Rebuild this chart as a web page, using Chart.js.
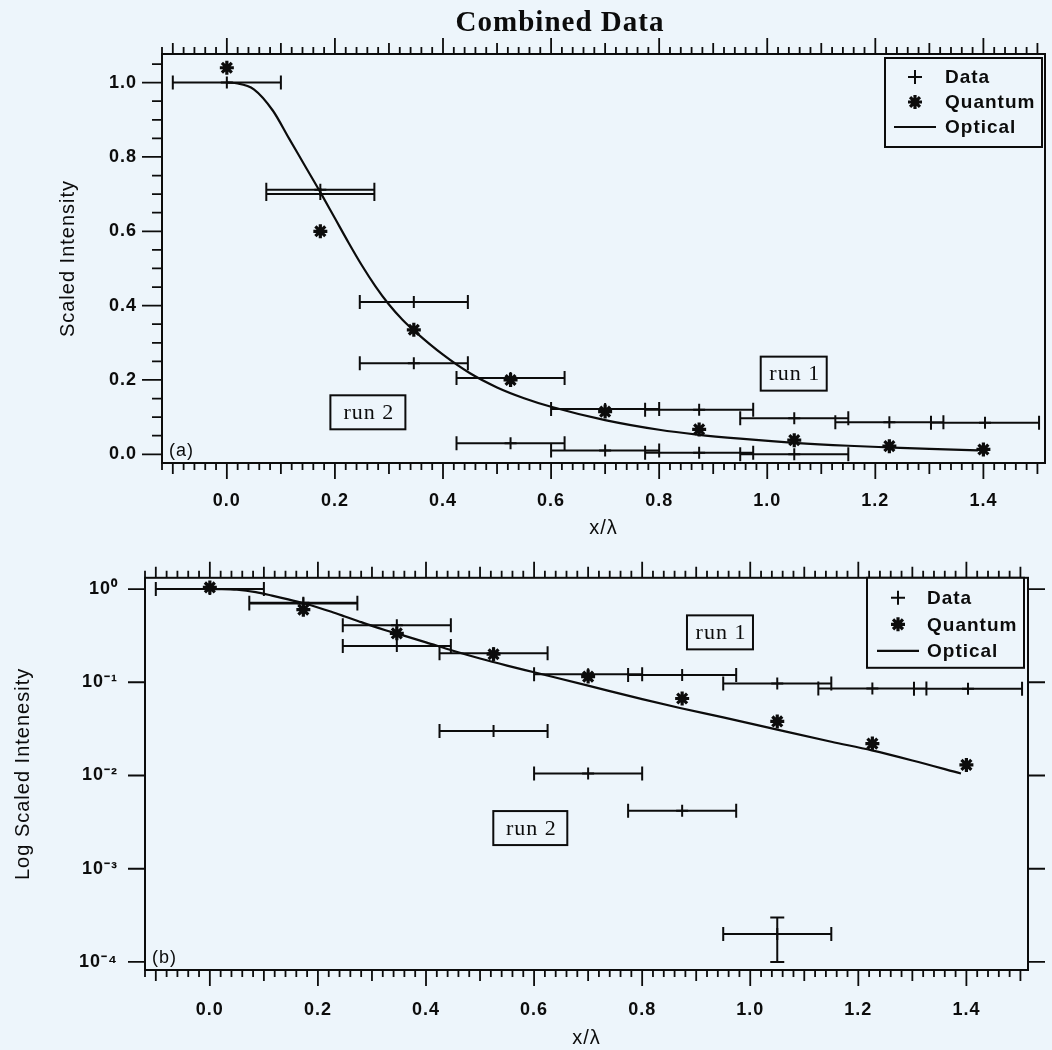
<!DOCTYPE html>
<html>
<head>
<meta charset="utf-8">
<title>Combined Data</title>
<script src="https://cdn.jsdelivr.net/npm/chart.js@4.4.1/dist/chart.umd.min.js"></script>
<style>
  html, body { margin: 0; padding: 0; background: #edf5fb; }
  #wrap { position: relative; width: 1052px; height: 1050px; background: #edf5fb; overflow: hidden; }
  .panel { position: absolute; left: 0; width: 1052px; }
  #panelA { top: 0; height: 540px; }
  #panelB { top: 540px; height: 510px; }
</style>
</head>
<body>
<div id="wrap">
  <div class="panel" id="panelA"><canvas id="chartA" width="1052" height="540"></canvas></div>
  <div class="panel" id="panelB"><canvas id="chartB" width="1052" height="510"></canvas></div>
</div>
<script>
// measured points, x in units of x/lambda
const run1X    = [0.000, 0.173, 0.346, 0.525, 0.700, 0.874, 1.050, 1.226, 1.403];
const run1Y    = [1.000, 0.712, 0.410, 0.205, 0.122, 0.120, 0.097, 0.086, 0.085];
const run1XErr = [0.10, 0.10, 0.10, 0.10, 0.10, 0.10, 0.10, 0.10, 0.10];

const run2X    = [0.173, 0.346, 0.525, 0.700, 0.874, 1.050];
const run2Y    = [0.700, 0.245, 0.030, 0.0105, 0.0042, 0.0002];
const run2XErr = [0.10, 0.10, 0.10, 0.10, 0.10, 0.10];
const run2YLow  = [null, null, null, null, null, 0.0001];
const run2YHigh = [null, null, null, null, null, 0.0003];

const quantumX = [0.000, 0.173, 0.346, 0.525, 0.700, 0.874, 1.050, 1.226, 1.400];
const quantumY = [1.040, 0.600, 0.335, 0.200, 0.115, 0.067, 0.038, 0.022, 0.013];

const opticalX = [0.00, 0.02, 0.05, 0.085, 0.115, 0.145, 0.175, 0.20, 0.225, 0.25, 0.275, 0.30,
                  0.325, 0.35, 0.40, 0.45, 0.50, 0.55, 0.60, 0.70, 0.80, 0.87, 0.95, 1.05,
                  1.15, 1.225, 1.30, 1.39];
const opticalY = [1.000, 0.998, 0.982, 0.925, 0.850, 0.775, 0.700, 0.635, 0.570, 0.508, 0.452, 0.403,
                  0.362, 0.328, 0.268, 0.218, 0.180, 0.151, 0.128, 0.092, 0.066, 0.053, 0.042, 0.031,
                  0.023, 0.0186, 0.0145, 0.0105];

const xTicks   = [0.0, 0.2, 0.4, 0.6, 0.8, 1.0, 1.2, 1.4];
const yTicks   = [0.0, 0.2, 0.4, 0.6, 0.8, 1.0];
const logTicks = [1e-4, 1e-3, 1e-2, 1e-1, 1];

const INK = '#0c0c0c';
const BG = '#edf5fb';
const SANS = "'Liberation Sans', Arial, Helvetica, sans-serif";
const SERIF = "'Liberation Serif', 'Times New Roman', serif";
const CAP = 7;

const tickFont = { family: SANS, size: 18, weight: 'bold' };
const titleFont = { family: SANS, size: 20 };

const sup = { '0': '⁰', '1': '¹', '2': '²', '3': '³', '4': '⁴', '-': '⁻' };
function powerLabel(v) {
    const e = Math.round(Math.log10(v));
    return '10' + String(e).split('').map(c => sup[c]).join('');
}

function withErrors(xs, ys, xErr, yLow, yHigh) {
    return xs.map((v, i) => ({
        x: v, y: ys[i],
        xMin: v - xErr[i], xMax: v + xErr[i],
        yMin: yLow ? yLow[i] : null, yMax: yHigh ? yHigh[i] : null
    }));
}

function buildDatasets() {
    return [
        {
            label: 'Data (run 1)', legendLabel: 'Data', errorBars: true,
            data: withErrors(run1X, run1Y, run1XErr),
            pointStyle: 'cross', pointRadius: 6, pointBorderWidth: 2,
            borderColor: INK, backgroundColor: INK
        },
        {
            label: 'Data (run 2)', errorBars: true,
            data: withErrors(run2X, run2Y, run2XErr, run2YLow, run2YHigh),
            pointStyle: 'cross', pointRadius: 6, pointBorderWidth: 2,
            borderColor: INK, backgroundColor: INK
        },
        {
            label: 'Quantum', legendLabel: 'Quantum',
            data: quantumX.map((v, i) => ({ x: v, y: quantumY[i] })),
            pointStyle: 'star', pointRadius: 7, pointBorderWidth: 3.2,
            borderColor: INK, backgroundColor: INK
        },
        {
            label: 'Optical', legendLabel: 'Optical',
            data: opticalX.map((v, i) => ({ x: v, y: opticalY[i] })),
            showLine: true, pointRadius: 0, borderWidth: 2.2,
            cubicInterpolationMode: 'monotone',
            borderColor: INK, backgroundColor: INK
        }
    ];
}

// error bars, frame, minor ticks, legend box and labels
function drawErrorBars(chart) {
    const { ctx, scales: { x, y } } = chart;
    ctx.save();
    ctx.strokeStyle = INK;
    ctx.lineWidth = 2;
    ctx.beginPath();
    chart.data.datasets.forEach(ds => {
        if (!ds.errorBars) return;
        ds.data.forEach(p => {
            const px = x.getPixelForValue(p.x);
            const py = y.getPixelForValue(p.y);
            if (p.xMin != null) {
                const x0 = x.getPixelForValue(p.xMin);
                const x1 = x.getPixelForValue(p.xMax);
                ctx.moveTo(x0, py); ctx.lineTo(x1, py);
                ctx.moveTo(x0, py - CAP); ctx.lineTo(x0, py + CAP);
                ctx.moveTo(x1, py - CAP); ctx.lineTo(x1, py + CAP);
            }
            if (p.yMin != null) {
                const y0 = y.getPixelForValue(p.yMin);
                const y1 = y.getPixelForValue(p.yMax);
                ctx.moveTo(px, y0); ctx.lineTo(px, y1);
                ctx.moveTo(px - CAP, y0); ctx.lineTo(px + CAP, y0);
                ctx.moveTo(px - CAP, y1); ctx.lineTo(px + CAP, y1);
            }
        });
    });
    ctx.stroke();
    ctx.restore();
}

function drawFrame(chart, o) {
    const { ctx, chartArea: a, scales: { x, y } } = chart;
    ctx.save();
    ctx.strokeStyle = INK;
    ctx.lineWidth = 2;
    ctx.strokeRect(a.left, a.top, a.right - a.left, a.bottom - a.top);

    ctx.lineWidth = 1.8;
    ctx.beginPath();
    const first = Math.ceil(x.min / 0.02 - 1e-6);
    const last = Math.floor(x.max / 0.02 + 1e-6);
    for (let i = first; i <= last; i++) {
        const px = x.getPixelForValue(i * 0.02);
        const len = i % 10 === 0 ? 16 : (i % 5 === 0 ? 11 : 7);
        ctx.moveTo(px, a.bottom); ctx.lineTo(px, a.bottom + len);
        ctx.moveTo(px, a.top); ctx.lineTo(px, a.top - len);
    }
    if (o.yMinorStep) {
        const s = o.yMinorStep;
        for (let i = Math.ceil(y.min / s - 1e-6); i * s <= y.max + 1e-9; i++) {
            const py = y.getPixelForValue(i * s);
            const len = i % 4 === 0 ? o.yMajorLen : 10;
            ctx.moveTo(a.left, py); ctx.lineTo(a.left - len, py);
        }
    } else {
        y.ticks.forEach(t => {
            const py = y.getPixelForValue(t.value);
            ctx.moveTo(a.left, py); ctx.lineTo(a.left - o.yMajorLen, py);
            if (o.rightTicks) { ctx.moveTo(a.right, py); ctx.lineTo(a.right + o.yMajorLen, py); }
        });
    }
    ctx.stroke();
    ctx.restore();
}

function drawMarker(ctx, ds, cx, cy) {
    ctx.beginPath();
    if (ds.showLine) {
        ctx.lineWidth = 2.2;
        ctx.moveTo(cx - 21, cy); ctx.lineTo(cx + 21, cy);
    } else if (ds.pointStyle === 'cross') {
        ctx.lineWidth = 2;
        ctx.moveTo(cx - 7, cy); ctx.lineTo(cx + 7, cy);
        ctx.moveTo(cx, cy - 7); ctx.lineTo(cx, cy + 7);
    } else {
        const r = 7, d = r * Math.SQRT1_2;
        ctx.lineWidth = 3.2;
        ctx.moveTo(cx - r, cy); ctx.lineTo(cx + r, cy);
        ctx.moveTo(cx, cy - r); ctx.lineTo(cx, cy + r);
        ctx.moveTo(cx - d, cy - d); ctx.lineTo(cx + d, cy + d);
        ctx.moveTo(cx - d, cy + d); ctx.lineTo(cx + d, cy - d);
    }
    ctx.stroke();
}

function drawLegend(chart, L) {
    const { ctx, chartArea: a } = chart;
    const left = a.right - L.right - L.width;
    const top = a.top + L.top;
    ctx.save();
    ctx.fillStyle = BG;
    ctx.fillRect(left, top, L.width, L.height);
    ctx.strokeStyle = INK;
    ctx.lineWidth = 2;
    ctx.strokeRect(left, top, L.width, L.height);
    chart.data.datasets.filter(ds => ds.legendLabel).forEach((ds, i) => {
        const cy = top + L.firstRow + i * L.rowGap;
        drawMarker(ctx, ds, left + L.symbolX, cy);
        ctx.fillStyle = INK;
        ctx.font = 'bold 19px ' + SANS;
        ctx.textAlign = 'left';
        ctx.textBaseline = 'middle';
        ctx.fillText(ds.legendLabel, left + L.textX, cy + 1);
    });
    ctx.restore();
}

function drawRunLabels(chart, labels) {
    const { ctx, scales: { x, y } } = chart;
    ctx.save();
    labels.forEach(r => {
        const cx = x.getPixelForValue(r.x);
        const cy = y.getPixelForValue(r.y);
        ctx.fillStyle = BG;
        ctx.fillRect(cx - r.w / 2, cy - 17, r.w, 34);
        ctx.strokeStyle = INK;
        ctx.lineWidth = 2;
        ctx.strokeRect(cx - r.w / 2, cy - 17, r.w, 34);
        ctx.fillStyle = INK;
        ctx.font = '22px ' + SERIF;
        ctx.textAlign = 'center';
        ctx.textBaseline = 'middle';
        ctx.fillText(r.text, cx + 1, cy + 1);
    });
    ctx.restore();
}

const panelDecor = {
    id: 'panelDecor',
    beforeDraw(chart) {
        chart.ctx.letterSpacing = '1px';
    },
    afterDatasetsDraw(chart) {
        drawErrorBars(chart);
    },
    afterDraw(chart, args, o) {
        const { ctx, chartArea: a } = chart;
        drawFrame(chart, o);
        drawRunLabels(chart, o.runLabels);
        drawLegend(chart, o.legend);
        ctx.save();
        ctx.fillStyle = INK;
        ctx.font = '18px ' + SANS;
        ctx.textAlign = 'left';
        ctx.textBaseline = 'middle';
        ctx.fillText(o.tag, a.left + 7, a.bottom - 12);
        if (o.title) {
            ctx.font = 'bold 29px ' + SERIF;
            ctx.textAlign = 'center';
            ctx.fillText(o.title.text, o.title.x, o.title.y);
        }
        ctx.restore();
    }
};

function axisX(height, labelPad) {
    return {
        type: 'linear', position: 'bottom', min: -0.12, max: 1.514,
        afterBuildTicks: s => { s.ticks = xTicks.map(v => ({ value: v })); },
        afterFit: s => { s.height = height; },
        grid: { display: false, drawTicks: false },
        border: { display: false },
        ticks: {
            padding: labelPad, color: INK, autoSkip: false, maxRotation: 0,
            font: tickFont,
            callback: v => v.toFixed(1)
        },
        title: {
            display: true, text: 'x/λ', color: INK,
            font: titleFont, padding: { top: 0, bottom: 0 }
        }
    };
}

Chart.defaults.font.family = SANS;

new Chart(document.getElementById('chartA'), {
    type: 'scatter',
    data: { datasets: buildDatasets() },
    plugins: [panelDecor],
    options: {
        responsive: false,
        devicePixelRatio: 1,
        animation: false,
        events: [],
        layout: { autoPadding: false, padding: { left: 0, right: 7, top: 54, bottom: 0 } },
        scales: {
            x: axisX(77, 27),
            y: {
                type: 'linear', position: 'left', min: -0.0234, max: 1.077,
                afterBuildTicks: s => { s.ticks = yTicks.map(v => ({ value: v })); },
                afterFit: s => { s.width = 162; },
                grid: { display: false, drawTicks: false },
                border: { display: false },
                ticks: {
                    padding: 25, color: INK, autoSkip: false,
                    font: tickFont,
                    callback: v => v.toFixed(1)
                },
                title: {
                    display: true, text: 'Scaled Intensity', color: INK,
                    font: titleFont, padding: { top: 56, bottom: 0 }
                }
            }
        },
        plugins: {
            legend: { display: false },
            tooltip: { enabled: false },
            panelDecor: {
                yMinorStep: 0.05, yMajorLen: 20,
                tag: '(a)',
                title: { text: 'Combined Data', x: 560, y: 24 },
                legend: { right: 3, top: 4, width: 157, height: 89, firstRow: 19, rowGap: 25, symbolX: 30, textX: 60 },
                runLabels: [
                    { text: 'run 2', x: 0.261, y: 0.113, w: 75 },
                    { text: 'run 1', x: 1.049, y: 0.217, w: 66 }
                ]
            }
        }
    }
});

new Chart(document.getElementById('chartB'), {
    type: 'scatter',
    data: { datasets: buildDatasets() },
    plugins: [panelDecor],
    options: {
        responsive: false,
        devicePixelRatio: 1,
        animation: false,
        events: [],
        layout: { autoPadding: false, padding: { left: 0, right: 24, top: 25, bottom: 0 } },
        scales: {
            x: axisX(80, 29),
            y: {
                type: 'logarithmic', position: 'left', min: 8.2e-5, max: 1.32,
                afterBuildTicks: s => { s.ticks = logTicks.map(v => ({ value: v })); },
                afterFit: s => { s.width = 145; },
                grid: { display: false, drawTicks: false },
                border: { display: false },
                ticks: {
                    padding: 27, color: INK, autoSkip: false,
                    font: tickFont,
                    callback: v => powerLabel(v)
                },
                title: {
                    display: true, text: 'Log Scaled Intenesity', color: INK,
                    font: titleFont, padding: { top: 11, bottom: 0 }
                }
            }
        },
        plugins: {
            legend: { display: false },
            tooltip: { enabled: false },
            panelDecor: {
                yMinorStep: null, yMajorLen: 17, rightTicks: true,
                tag: '(b)',
                legend: { right: 4, top: 0, width: 157, height: 90, firstRow: 20, rowGap: 26.5, symbolX: 31, textX: 60 },
                runLabels: [
                    { text: 'run 1', x: 0.944, y: 0.343, w: 66 },
                    { text: 'run 2', x: 0.593, y: 0.00273, w: 74 }
                ]
            }
        }
    }
});
</script>
</body>
</html>
